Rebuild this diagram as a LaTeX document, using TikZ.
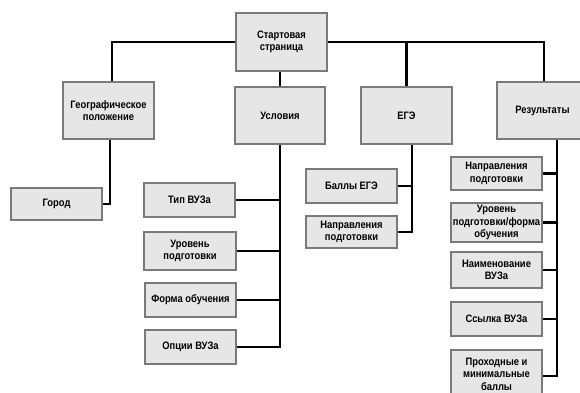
\documentclass[tikz,border=0pt]{standalone}
\usepackage{fontspec}
\setmainfont{Liberation Sans}[FakeStretch=0.87]
\begin{document}
\begin{tikzpicture}[x=1pt,y=-1pt,
  box/.style={draw=boxline,fill=boxfill,line width=1.8pt,align=center,inner sep=1pt,
    font=\fontsize{10.8}{12.6}\selectfont\bfseries},
  conn/.style={draw=black,line width=2.2pt}]
\definecolor{boxline}{HTML}{7A7A7A}
\definecolor{boxfill}{HTML}{E6E6E6}
\useasboundingbox (0,0) rectangle (580,392);
\clip (0,0) rectangle (580,392);
\fill[white] (0,0) rectangle (580,392);
% connectors first (behind boxes)
\coordinate (geotop) at (112,82);
\coordinate (restop) at (544,82);
\coordinate (geobot) at (110,139);
\coordinate (egebot) at (412,144);
\coordinate (resbot) at (557,139);
% nodes
\node[box,minimum width=91,minimum height=58] (start) at (281.5,42) {Стартовая\\страница};
\node[box,minimum width=91,minimum height=57] (geo) at (108.5,110.5) {Географическое\\положение};
\node[box,minimum width=91,minimum height=32] (gorod) at (56.5,204) {Город};
\node[box,minimum width=90,minimum height=57] (usl) at (280,115.5) {Условия};
\node[box,minimum width=91,minimum height=34] (tip) at (189.5,200) {Тип ВУЗа};
\node[box,minimum width=92,minimum height=38] (urov) at (190,251) {Уровень\\подготовки};
\node[box,minimum width=91,minimum height=34] (forma) at (190.5,300) {Форма обучения};
\node[box,minimum width=91,minimum height=34] (opc) at (190.5,347) {Опции ВУЗа};
\node[box,minimum width=91,minimum height=57] (ege) at (406.5,115.5) {ЕГЭ};
\node[box,minimum width=91,minimum height=34] (balls) at (351.5,186) {Баллы ЕГЭ};
\node[box,minimum width=91,minimum height=32] (napr) at (351.5,232) {Направления\\подготовки};
\node[box,minimum width=91,minimum height=57] (res) at (542.5,110.5) {Результаты};
\node[box,minimum width=91,minimum height=33] (rnapr) at (496.5,173.5) {Направления\\подготовки};
\node[box,minimum width=91,minimum height=39] (rurov) at (496.5,222.5) {Уровень\\подготовки/форма\\обучения};
\node[box,minimum width=91,minimum height=36] (rname) at (496.5,270) {Наименование\\ВУЗа};
\node[box,minimum width=91,minimum height=34] (rlink) at (496.5,319) {Ссылка ВУЗа};
\node[box,minimum width=91,minimum height=48] (rpass) at (496.5,374) {Проходные и\\минимальные\\баллы};
% connectors
\draw[conn] (start.west) -| (geotop |- geo.north);
\draw[conn] (start.east) -| (restop |- res.north);
\draw[conn] (ege.north) -- (ege.north |- start.east);
\draw[conn] (usl.north |- start.south) -- (usl.north);
\draw[conn] (geobot |- geo.south) |- (gorod.east);
\draw[conn] (usl.south) |- (opc.east);
\draw[conn] (tip.east) -- (tip.east -| usl.south);
\draw[conn] (urov.east) -- (urov.east -| usl.south);
\draw[conn] (forma.east) -- (forma.east -| usl.south);
\draw[conn] (egebot |- ege.south) |- (napr.east);
\draw[conn] (balls.east) -- (balls.east -| egebot);
\draw[conn] (resbot |- res.south) |- ([yshift=-2pt]rpass.east);
\draw[conn] (rnapr.east) -- (rnapr.east -| resbot);
\draw[conn] (rurov.east) -- (rurov.east -| resbot);
\draw[conn] (rname.east) -- (rname.east -| resbot);
\draw[conn] (rlink.east) -- (rlink.east -| resbot);
\end{tikzpicture}
\end{document}
